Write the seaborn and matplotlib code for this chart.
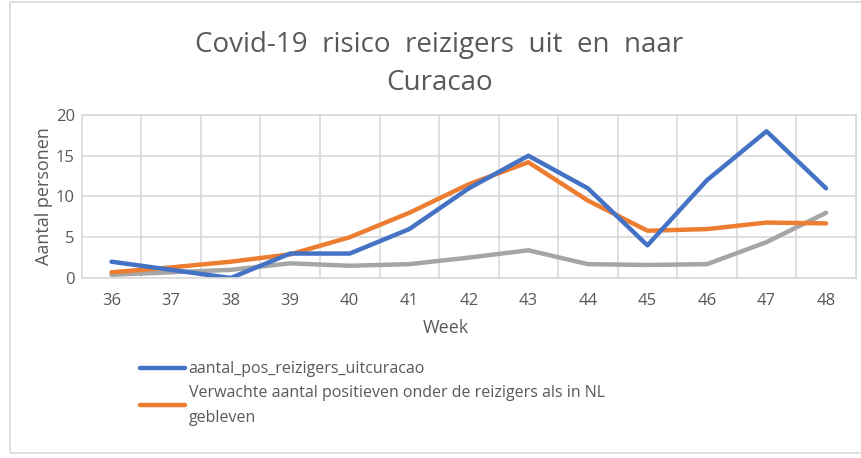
import matplotlib
matplotlib.use("Agg")
import matplotlib.pyplot as plt
from matplotlib.patches import Rectangle
import seaborn as sns
import pandas as pd

weeks = [36, 37, 38, 39, 40, 41, 42, 43, 44, 45, 46, 47, 48]
pos_uit_curacao = [2, 1, 0, 3, 3, 6, 11, 15, 11, 4, 12, 18, 11]
verwacht_nl = [0.7, 1.3, 2.0, 2.9, 5.0, 8.0, 11.5, 14.2, 9.5, 5.8, 6.0, 6.8, 6.7]
derde_reeks = [0.4, 0.7, 1.0, 1.8, 1.5, 1.7, 2.5, 3.4, 1.7, 1.6, 1.7, 4.4, 8.0]
yticks = [0, 5, 10, 15, 20]

label_blue = "aantal_pos_reizigers_uitcuracao"
label_orange = "Verwachte aantal positieven onder de reizigers als in NL\ngebleven"

sns.set_style("white")
plt.rcParams["font.family"] = ["Open Sans", "DejaVu Sans"]
txt = "#595959"

fig = plt.figure(figsize=(8.61, 4.58), dpi=100)
ax = fig.add_axes([0.095, 0.393, 0.899, 0.356])

df = pd.DataFrame({"week": weeks, "blue": pos_uit_curacao,
                   "orange": verwacht_nl, "gray": derde_reeks})

# draw gray first so blue/orange sit on top
sns.lineplot(data=df, x="week", y="gray", ax=ax, color="#a5a5a5", lw=3.2, label="_nolegend_")
sns.lineplot(data=df, x="week", y="orange", ax=ax, color="#ed7d31", lw=3.2, label=label_orange)
sns.lineplot(data=df, x="week", y="blue", ax=ax, color="#4472c4", lw=3.2, label=label_blue)

ax.set_xlim(weeks[0] - 0.5, weeks[-1] + 0.5)
ax.set_ylim(0, 20)
ax.set_xticks(weeks)
ax.set_xticklabels([str(w) for w in weeks])
ax.set_xticks([w + 0.5 for w in weeks[:-1]], minor=True)
ax.set_yticks(yticks)
ax.tick_params(axis="both", which="both", length=0, colors=txt, labelsize=12)
ax.tick_params(axis="x", pad=11)
ax.tick_params(axis="y", pad=5)
ax.grid(True, which="major", axis="y", color="#d9d9d9", lw=1.2)
ax.grid(True, which="minor", axis="x", color="#d9d9d9", lw=1.2)
for s in ax.spines.values():
    s.set_color("#d9d9d9")
    s.set_linewidth(1.2)

ax.set_xlabel("Week", color=txt, fontsize=13)
ax.set_ylabel("Aantal personen", color=txt, fontsize=13, labelpad=2)
ax.xaxis.set_label_coords(0.47, -0.25)

fig.text(0.51, 0.86, "Covid-19  risico  reizigers  uit  en  naar\nCuracao",
         ha="center", va="center", fontsize=20, color=txt, linespacing=1.45)

handles, labels = ax.get_legend_handles_labels()
ax.get_legend().remove()
order = [labels.index(label_blue), labels.index(label_orange)]
leg = fig.legend([handles[i] for i in order], [labels[i] for i in order],
                 loc="upper left", bbox_to_anchor=(0.155, 0.225), frameon=False,
                 fontsize=11.5, labelcolor=txt, handlelength=2.8, handletextpad=0.25,
                 labelspacing=0.45, borderaxespad=0)
for t in leg.get_texts():
    t.set_linespacing(1.75)

fig.patches.append(Rectangle((0.012, 0.01), 0.99, 0.985, transform=fig.transFigure,
                             fill=False, edgecolor="#d9d9d9", lw=1.2))

fig.savefig("out.png", dpi=100)
